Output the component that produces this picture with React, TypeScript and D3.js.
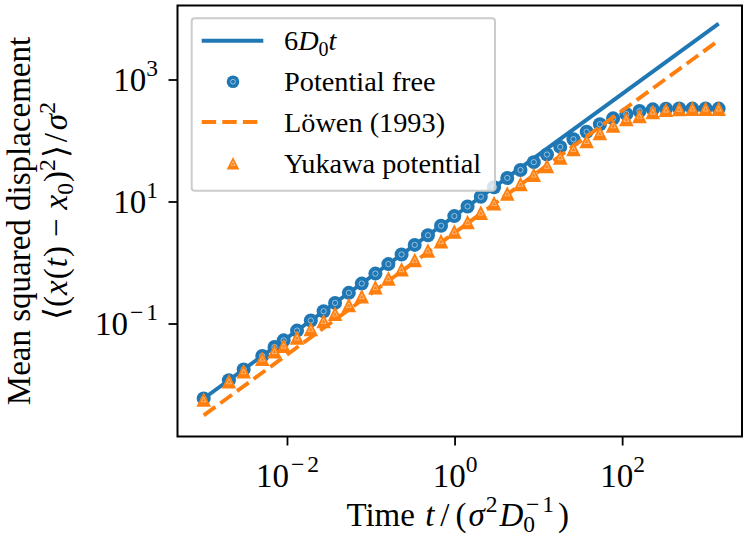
import React from 'react';
import * as d3 from 'd3';

// ---- data ----
const TIMES = [0.001, 0.002, 0.003, 0.005, 0.007, 0.009, 0.013, 0.019, 0.027, 0.037, 0.054, 0.077, 0.112, 0.16, 0.23, 0.33, 0.475, 0.68, 0.98, 1.41, 2.03, 2.92, 4.2, 6.04, 8.7, 12.5, 18, 25.9, 37.2, 53.5, 77, 110.7, 159, 229, 329, 473, 680, 978, 1400];
const MSD_FREE = [0.006, 0.012, 0.018, 0.030, 0.042, 0.054, 0.078, 0.114, 0.162, 0.222, 0.324, 0.46, 0.67, 0.96, 1.38, 1.98, 2.85, 4.08, 5.88, 8.46, 12.2, 17.5, 24.8, 33.5, 45, 60, 80, 107, 142, 188, 235, 277, 310, 330, 338, 342, 340, 342, 340];
const MSD_YUKAWA = [0.0058, 0.0115, 0.0168, 0.027, 0.036, 0.044, 0.060, 0.083, 0.112, 0.148, 0.205, 0.285, 0.40, 0.56, 0.79, 1.12, 1.60, 2.28, 3.28, 4.7, 6.7, 9.6, 13.8, 19.8, 28, 39, 54, 74, 100, 136, 180, 230, 258, 300, 325, 336, 340, 340, 340];
const THEORY_T = [0.001, 1400];
const THEORY_FREE = [0.006, 8400];
const THEORY_LOWEN = [0.00318, 4450];
const X_TICKS = [1e-2, 1, 1e2];
const X_TICK_EXP = ['-2', '0', '2'];
const Y_TICKS = [1e-1, 1e1, 1e3];
const Y_TICK_EXP = ['-1', '1', '3'];
const LEGEND_LABELS = ['6D0t', 'Potential free', 'L\u00f6wen (1993)', 'Yukawa potential'];

// ---- layout ----
const W = 750, H = 536;
const L = 177.5, R = 742, TOP = 5.5, B = 436.5;
const BLUE = '#1f77b4', ORANGE = '#ff7f0e';
const FONT = '"Liberation Serif", "Times New Roman", Times, serif';
const FS = 33;
const SUP = 23.5;

const x = d3.scaleLog().domain([Math.pow(10, -3.3125), Math.pow(10, 3.4245)]).range([L, R]);
const y = d3.scaleLog().domain([Math.pow(10, -2.844), Math.pow(10, 4.2213)]).range([B, TOP]);

const lineGen = d3.line<[number, number]>().x(d => x(d[0])).y(d => y(d[1]));

function Circle({ cx, cy, r }: { cx: number; cy: number; r: number }) {
  return (
    <g>
      <circle cx={cx} cy={cy} r={r} fill={BLUE} />
      <circle cx={cx} cy={cy} r={r * 0.38} fill="none" stroke="rgba(255,255,255,0.5)" strokeWidth={1} />
    </g>
  );
}

function Tri({ cx, cy, s }: { cx: number; cy: number; s: number }) {
  const p = (k: number) => `M${cx},${cy - k}L${cx - k},${cy + k}L${cx + k},${cy + k}Z`;
  return (
    <g>
      <path d={p(s)} fill={ORANGE} />
      <path d={p(s * 0.33)} fill="none" stroke="rgba(255,255,255,0.45)" strokeWidth={0.9} />
    </g>
  );
}

function Exp({ e }: { e: string }) {
  if (e.startsWith('-')) {
    return (
      <>
        <tspan fontSize={SUP} dy={-15} dx={2}>{'\u2212'}</tspan>
        <tspan fontSize={SUP} dx={3}>{e.slice(1)}</tspan>
      </>
    );
  }
  return <tspan fontSize={SUP} dy={-15}>{e}</tspan>;
}

export default function App() {
  const freePts = TIMES.map((t, i) => [t, MSD_FREE[i]] as [number, number]);
  const yukPts = TIMES.map((t, i) => [t, MSD_YUKAWA[i]] as [number, number]);
  const theoryFree = THEORY_T.map((t, i) => [t, THEORY_FREE[i]] as [number, number]);
  const theoryLowen = THEORY_T.map((t, i) => [t, THEORY_LOWEN[i]] as [number, number]);
  const rowY = [40.7, 81.7, 122, 163.3];
  const mr = 7;

  return (
    <svg width={W} height={H} style={{ position: 'absolute', left: 0, top: 0, background: '#fff' }} fontFamily={FONT}>
      <rect x={0} y={0} width={W} height={H} fill="#fff" />
      {/* series */}
      <path d={lineGen(theoryFree) || ''} fill="none" stroke={BLUE} strokeWidth={3.9} />
      {freePts.map((d, i) => <Circle key={'c' + i} cx={x(d[0])} cy={y(d[1])} r={mr} />)}
      <path d={lineGen(theoryLowen) || ''} fill="none" stroke={ORANGE} strokeWidth={3.9} strokeDasharray="14.4 6.2" />
      {yukPts.map((d, i) => <Tri key={'t' + i} cx={x(d[0])} cy={y(d[1])} s={7.3} />)}

      {/* frame */}
      <rect x={L} y={TOP} width={R - L} height={B - TOP} fill="none" stroke="#000" strokeWidth={2} />

      {/* x ticks */}
      {X_TICKS.map((v, i) => (
        <g key={'xt' + i}>
          <line x1={x(v)} x2={x(v)} y1={B} y2={B + 9} stroke="#000" strokeWidth={1.8} />
          <text x={x(v)} y={487} textAnchor="middle" fontSize={FS}>
            10<Exp e={X_TICK_EXP[i]} />
          </text>
        </g>
      ))}
      {/* y ticks */}
      {Y_TICKS.map((v, i) => (
        <g key={'yt' + i}>
          <line x1={L - 9} x2={L} y1={y(v)} y2={y(v)} stroke="#000" strokeWidth={1.8} />
          <text x={158} y={y(v) + 11} textAnchor="end" fontSize={FS}>
            10<Exp e={Y_TICK_EXP[i]} />
          </text>
        </g>
      ))}

      {/* x label */}
      <text x={(L + R) / 2 - 2} y={526} textAnchor="middle" fontSize={FS}>
        Time <tspan fontStyle="italic" dx={2}>t</tspan>
        <tspan dx={6}>/</tspan>
        <tspan dx={6}>(</tspan>
        <tspan fontStyle="italic" dx={2}>σ</tspan>
        <tspan fontSize={SUP} dy={-14} dx={1}>2</tspan>
        <tspan fontStyle="italic" dy={14} dx={2}>D</tspan>
        <tspan fontSize={SUP} dy={6}>0</tspan>
        <tspan fontSize={SUP} dx={-9} dy={-20}>{'\u2212'}</tspan>
        <tspan fontSize={SUP} dx={3}>1</tspan>
        <tspan dy={14} dx={4}>)</tspan>
      </text>

      {/* y label */}
      <g transform={`translate(30, ${(TOP + B) / 2}) rotate(-90)`}>
        <text textAnchor="middle" fontSize={FS}>Mean squared displacement</text>
      </g>
      <g transform={`translate(67, ${(TOP + B) / 2 - 10}) rotate(-90)`}>
        <text textAnchor="middle" fontSize={FS}>
          ⟨(<tspan fontStyle="italic" dx={1}>x</tspan>
          <tspan dx={1}>(</tspan>
          <tspan fontStyle="italic" dx={1}>t</tspan>
          <tspan dx={1}>)</tspan>
          <tspan dx={9}>−</tspan>
          <tspan fontStyle="italic" dx={9}>x</tspan>
          <tspan fontSize={SUP} dy={6}>0</tspan>
          <tspan dy={-6} dx={1}>)</tspan>
          <tspan fontSize={SUP} dy={-12}>2</tspan>
          <tspan dy={12} dx={1}>⟩</tspan>
          <tspan dx={3}>/</tspan>
          <tspan fontStyle="italic" dx={3}>σ</tspan>
          <tspan fontSize={SUP} dy={-12}>2</tspan>
        </text>
      </g>

      {/* legend */}
      <rect x={191.7} y={18.3} width={303.3} height={172.4} rx={3} fill="#fff" fillOpacity={0.8} stroke="#cccccc" strokeWidth={2} />
      <line x1={201.7} x2={263.3} y1={rowY[0]} y2={rowY[0]} stroke={BLUE} strokeWidth={3.9} />
      <Circle cx={233} cy={rowY[1]} r={6.3} />
      <line x1={201.7} x2={263.3} y1={rowY[2]} y2={rowY[2]} stroke={ORANGE} strokeWidth={3.9} strokeDasharray="14.4 6.2" />
      <Tri cx={233} cy={rowY[3]} s={6.3} />
      <text x={284} y={rowY[0] + 9.5} fontSize={28.3}>
        6<tspan fontStyle="italic">D</tspan><tspan fontSize={20} dy={6}>0</tspan><tspan fontStyle="italic" dy={-6}>t</tspan>
      </text>
      {LEGEND_LABELS.slice(1).map((lab, i) => (
        <text key={'lg' + i} x={284} y={rowY[i + 1] + 9.5} fontSize={28.3}>{lab}</text>
      ))}
    </svg>
  );
}
